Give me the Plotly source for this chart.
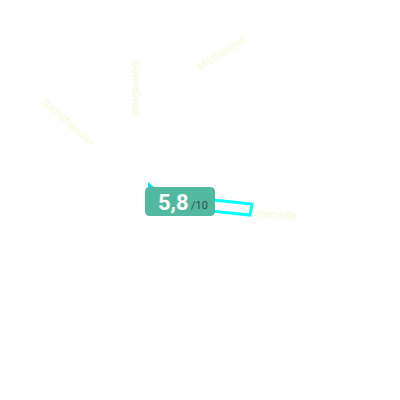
import plotly.graph_objects as go

# data
categories = ["Bathshieruter", "Gonsebreer", "Mathsletrel", "Intervolle"]
score = 5.8
max_score = 10

# label placement (pixels) and rotation
label_pos = [(69, 122, 42), (137, 89, 90), (221, 53, -32), (274, 214, 6)]

fig = go.Figure()
fig.add_trace(go.Scatter(x=[0], y=[0], mode="markers", marker=dict(opacity=0), hoverinfo="skip"))

# needle outline (behind badge)
fig.add_shape(type="path", path="M 213 200 L 252 204 L 250 215 L 211 211 Z",
              line=dict(color="#00ffff", width=3), fillcolor="white", layer="above")
fig.add_shape(type="path", path="M 148 182 L 154 187 L 148 188 Z",
              line=dict(color="#00e5e5", width=0), fillcolor="#00e5e5", layer="above")

# badge with rounded corners
x0, y0, x1, y1, r = 145, 187, 215, 216, 5
badge = (f"M {x0+r} {y0} L {x1-r} {y0} Q {x1} {y0} {x1} {y0+r} L {x1} {y1-r} "
         f"Q {x1} {y1} {x1-r} {y1} L {x0+r} {y1} Q {x0} {y1} {x0} {y1-r} "
         f"L {x0} {y0+r} Q {x0} {y0} {x0+r} {y0} Z")
fig.add_shape(type="path", path=badge, line=dict(width=0), fillcolor="#52b8a0", layer="above")

fig.add_annotation(x=173, y=202, text="<b>" + f"{score:.1f}".replace(".", ",") + "</b>",
                   showarrow=False, font=dict(size=22, color="white", family="Roboto"))
fig.add_annotation(x=199, y=205, text=f"/{max_score}", showarrow=False,
                   font=dict(size=11, color="#2c4d46", family="Roboto"))

for name, (lx, ly, ang) in zip(categories, label_pos):
    fig.add_annotation(x=lx, y=ly, text=name, textangle=ang, showarrow=False,
                       font=dict(size=11, color="#f5f9da", family="Roboto"))

# page body has an 8px margin, shift ranges so coordinates match screen pixels
fig.update_layout(width=400, height=400, margin=dict(l=0, r=0, t=0, b=0),
                  paper_bgcolor="white", plot_bgcolor="white", showlegend=False,
                  xaxis=dict(range=[8, 408], visible=False),
                  yaxis=dict(range=[408, 8], visible=False))
fig.write_html("out.html")
